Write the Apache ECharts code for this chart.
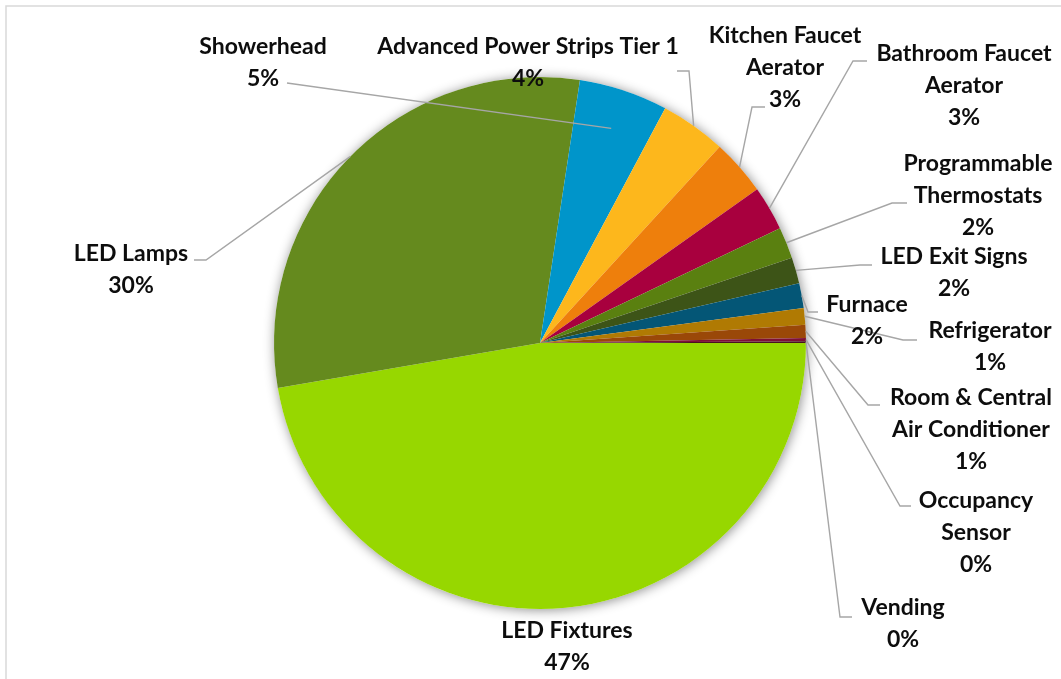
<!DOCTYPE html>
<html>
<head>
<meta charset="utf-8">
<script src="https://cdn.jsdelivr.net/npm/echarts@6/dist/echarts.min.js"></script>
<style>
html,body{margin:0;padding:0;background:#fff;}
#chart{width:1061px;height:679px;}
</style>
</head>
<body>
<div id="chart"></div>
<script>
// ---- data ----
const categories = ['LED Fixtures','LED Lamps','Showerhead','Advanced Power Strips Tier 1','Kitchen Faucet Aerator','Bathroom Faucet Aerator','Programmable Thermostats','LED Exit Signs','Furnace','Refrigerator','Room & Central Air Conditioner','Occupancy Sensor','Vending'];
const values = [47.3, 30.1, 5.4, 4.0, 3.4, 2.7, 1.9, 1.6, 1.5, 1.0, 0.8, 0.2, 0.1];
const labelNames = ['LED Fixtures','LED Lamps','Showerhead','Advanced Power Strips Tier 1','Kitchen Faucet\nAerator','Bathroom Faucet\nAerator','Programmable\nThermostats','LED Exit Signs','Furnace','Refrigerator','Room & Central\nAir Conditioner','Occupancy\nSensor','Vending'];

// ---- styles / layout ----
const colors = ['#97D700','#658A1E','#0095CA','#FDB71C','#EE7F0C','#A8003E','#5A8010','#3D5417','#045676','#B07A03','#9A4808','#7E1036','#4A1020'];
const CX = 540, CY = 343, R = 266;
const labelPos = [[567,647],[131,270],[263,63],[528,63],[785,68],[964,86],[978,196],[954,273],[867,321],[990,347],[971,430],[976,533],[903,624]];
// leader line: [attach point on label side, elbow], null = no leader
const leaderAttach = [null,[194,260],[287,83],[677,71],[765,107],[867,61],[907,203],[872,265],[818,312],[917,340],[880,405],[911,506],[852,617]];
const leaderElbow  = [null,[206,260],[287,83],[689,71],[752,107],[853,61],[892,203],[860,265],[808,312],[903,340],[868,405],[900,506],[840,617]];
const leaderDepth  = [1,1,0.85,1,1,1,1,1,1,1,1,1,1];

const total = values.reduce((a,b)=>a+b,0);
function midAngle(i){
  let cum = 0; for (let k=0;k<i;k++) cum += values[k];
  return (cum + values[i]/2) / total * Math.PI * 2; // clockwise on screen from 3 o'clock
}

const chart = echarts.init(document.getElementById('chart'), null, {renderer:'canvas'});
const pieData = categories.map((c,i)=>({name:c, value:values[i], itemStyle:{color:colors[i]}}));
const labelData = categories.map((c,i)=>({
  name:c, value:values[i],
  labelLine:{show: leaderAttach[i] !== null}
}));

chart.setOption({
  animation:false,
  backgroundColor:'#fff',
  graphic:[{type:'rect', shape:{x:6,y:6,width:1200,height:800}, style:{fill:'none', stroke:'#D9D9D9', lineWidth:1.5}, silent:true, z:0}],
  series:[
    {
      type:'pie', silent:true, z:1,
      center:[CX,CY], radius:R,
      data:[{value:1, itemStyle:{color:'#fff', shadowBlur:12, shadowColor:'rgba(0,0,0,0.45)', shadowOffsetX:1, shadowOffsetY:1}}],
      label:{show:false}, labelLine:{show:false}
    },
    {
      type:'pie', z:2,
      center:[CX,CY], radius:R,
      startAngle:0, clockwise:true,
      data:pieData,
      itemStyle:{borderWidth:0},
      label:{show:false}, labelLine:{show:false}
    },
    {
      // same slices, transparent, carrying the labels and leader lines above the coloured pie
      type:'pie', z:3, silent:true,
      center:[CX,CY], radius:R,
      startAngle:0, clockwise:true,
      avoidLabelOverlap:false,
      data:labelData,
      itemStyle:{color:'rgba(0,0,0,0)', borderWidth:0},
      label:{
        show:true,
        formatter:(p)=> labelNames[p.dataIndex] + '\n' + Math.round(p.percent) + '%',
        fontFamily:'Lato', fontWeight:'bold', fontSize:23, lineHeight:32, color:'#0D0D0D',
        align:'center'
      },
      labelLine:{show:true, length:15, length2:10, lineStyle:{color:'#A6A6A6', width:1.4}},
      labelLayout:(p)=>{
        const i = p.dataIndex;
        const out = {x:labelPos[i][0], y:labelPos[i][1], align:'center', verticalAlign:'middle'};
        if (leaderAttach[i]) {
          const a = midAngle(i), rr = R*leaderDepth[i];
          out.labelLinePoints = [[CX+rr*Math.cos(a), CY+rr*Math.sin(a)], leaderElbow[i].slice(), leaderAttach[i].slice()];
        }
        return out;
      }
    }
  ]
});
</script>
</body>
</html>
